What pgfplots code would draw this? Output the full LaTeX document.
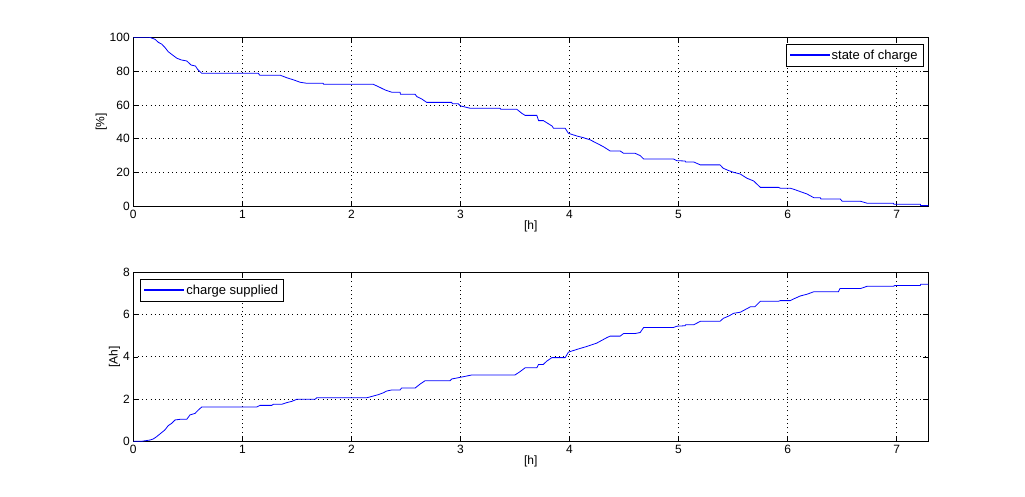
\documentclass[border=0pt]{standalone}
\usepackage{fontspec}
\setmainfont{Liberation Sans}
\usepackage{pgfplots}
\pgfplotsset{compat=1.18}
\begin{document}
\begin{tikzpicture}
\path[use as bounding box] (0pt,0pt) rectangle (1025pt,496pt);
\pgfplotsset{
  every axis/.append style={
    scale only axis, width=795pt, height=169pt,
    xmin=0, xmax=7.29,
    xtick={0,1,...,7},
    grid=major,
    major grid style={black, line width=0.7pt, dash pattern=on 1pt off 3.3pt},
    tick align=inside,
    major tick length=5pt,
    tick style={black, line width=0.6pt},
    axis line style={black, line width=0.8pt},
    font=\fontsize{12}{14}\selectfont,
    /pgf/number format/assume math mode=true,
    ticklabel style={font=\fontsize{12}{14}\selectfont},
    legend style={font=\fontsize{13}{15}\selectfont, draw=black, line width=0.8pt, inner sep=3.5pt},
    legend cell align=left,
    legend image code/.code={\fill[fill=blue, draw=none] (0pt,-0.1pt) rectangle (40pt,1.0pt);},
    xlabel={[h]},
    xlabel style={yshift=4pt},
  }
}
\begin{axis}[at={(133.3pt,289.7pt)}, anchor=south west,
  ymin=0, ymax=100, ytick={0,20,...,100},
  ylabel={[\%]}, ylabel style={yshift=-4pt},
  legend style={at={(0.994,0.96)}, anchor=north east}]
\addplot[blue, line width=0.8pt] coordinates {
(0,100) (0.15,100) (0.2,98.8) (0.23,97) (0.26,96) (0.29,94) (0.32,91.5) (0.35,90) (0.40,87.6) (0.44,86.6) (0.49,86) (0.53,83.6) (0.57,83) (0.59,81) (0.627,78.7) (1.147,78.7) (1.16,77.5) (1.35,77.5) (1.41,76) (1.47,74.8) (1.53,73.4) (1.59,72.8) (1.74,72.8) (1.745,72.2) (2.2,72.2) (2.26,70.4) (2.31,68.8) (2.37,67.5) (2.446,67.5) (2.45,66.3) (2.584,66.3) (2.60,64.9) (2.645,63.5) (2.69,61.5) (2.92,61.5) (2.925,60.7) (2.98,60.7) (3.0,59.4) (3.09,58) (3.364,58) (3.37,57.4) (3.517,57.4) (3.563,55) (3.593,53.8) (3.70,53.8) (3.716,50.7) (3.76,50.7) (3.79,49.5) (3.84,47.5) (3.853,46.2) (3.96,46.2) (3.99,43.2) (4.067,41.6) (4.128,40.6) (4.19,39.3) (4.25,37.3) (4.31,35.3) (4.373,32.7) (4.465,32.7) (4.495,31.4) (4.60,31.4) (4.648,30.0) (4.68,28) (4.954,28) (4.985,27) (5.06,26.8) (5.065,26.2) (5.14,26.2) (5.2,24.5) (5.38,24.5) (5.41,22.5) (5.46,21.1) (5.505,20.1) (5.566,19.1) (5.627,16.6) (5.688,15.0) (5.75,11.2) (5.917,11.2) (5.933,10.7) (6.024,10.7) (6.055,10.1) (6.116,8.7) (6.177,7.3) (6.24,5.1) (6.30,5.1) (6.305,4.3) (6.483,4.3) (6.50,3.0) (6.667,3.0) (6.73,1.8) (6.97,1.8) (6.975,1.2) (7.217,1.2) (7.22,0.4) (7.29,0.4)
};
\addlegendentry{state of charge}
\end{axis}
\begin{axis}[at={(133.3pt,54.7pt)}, anchor=south west,
  ymin=0, ymax=8, ytick={0,2,...,8},
  ylabel={[Ah]}, ylabel style={yshift=-4pt},
  legend style={at={(0.009,0.96)}, anchor=north west}]
\addplot[blue, line width=0.8pt] coordinates {
(0,0) (0.076,0) (0.153,0.06) (0.183,0.11) (0.214,0.22) (0.245,0.35) (0.29,0.54) (0.32,0.74) (0.352,0.85) (0.382,1.01) (0.428,1.04) (0.49,1.04) (0.52,1.25) (0.566,1.32) (0.596,1.48) (0.627,1.62) (1.131,1.62) (1.162,1.70) (1.269,1.70) (1.284,1.75) (1.36,1.75) (1.407,1.83) (1.453,1.89) (1.50,1.99) (1.667,1.99) (1.682,2.06) (2.14,2.06) (2.17,2.10) (2.248,2.21) (2.294,2.30) (2.324,2.38) (2.37,2.43) (2.446,2.43) (2.46,2.52) (2.584,2.52) (2.63,2.71) (2.676,2.87) (2.905,2.87) (2.92,2.95) (3.0,3.03) (3.104,3.14) (3.50,3.14) (3.547,3.30) (3.593,3.48) (3.70,3.48) (3.716,3.64) (3.76,3.64) (3.79,3.79) (3.838,3.96) (3.96,3.96) (3.99,4.22) (4.067,4.35) (4.159,4.49) (4.25,4.65) (4.343,4.91) (4.373,4.98) (4.465,4.98) (4.495,5.1) (4.60,5.1) (4.648,5.15) (4.68,5.39) (4.954,5.39) (4.985,5.45) (5.06,5.47) (5.065,5.52) (5.14,5.52) (5.2,5.68) (5.38,5.68) (5.41,5.82) (5.46,5.93) (5.505,6.06) (5.566,6.11) (5.627,6.28) (5.66,6.37) (5.70,6.37) (5.75,6.63) (5.917,6.63) (5.933,6.66) (6.024,6.66) (6.055,6.74) (6.116,6.88) (6.177,6.96) (6.24,7.08) (6.466,7.08) (6.48,7.23) (6.667,7.23) (6.73,7.34) (6.97,7.34) (6.985,7.38) (7.217,7.38) (7.22,7.43) (7.29,7.43)
};
\addlegendentry{charge supplied}
\end{axis}
\end{tikzpicture}
\end{document}
